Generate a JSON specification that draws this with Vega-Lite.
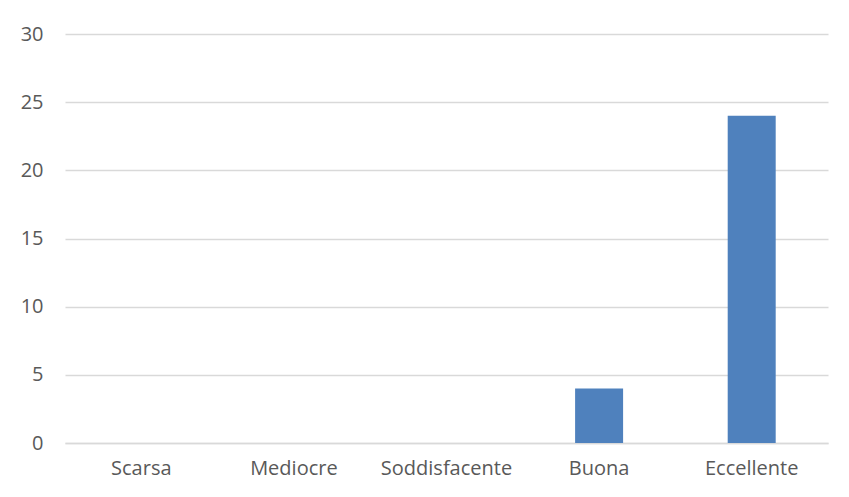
{
  "$schema": "https://vega.github.io/schema/vega-lite/v6.json",
  "width": 763,
  "height": 409,
  "autosize": {"type": "none"},
  "padding": {"left": 65, "top": 34, "right": 21, "bottom": 54},
  "background": "white",
  "config": {
    "view": {"stroke": null},
    "font": "Open Sans",
    "axis": {"labelFont": "Open Sans", "labelColor": "#595959", "labelFontSize": 20}
  },
  "data": {
    "values": [
      {"categoria": "Scarsa", "valore": 0},
      {"categoria": "Mediocre", "valore": 0},
      {"categoria": "Soddisfacente", "valore": 0},
      {"categoria": "Buona", "valore": 4},
      {"categoria": "Eccellente", "valore": 24}
    ]
  },
  "mark": {"type": "bar", "color": "#4f81bd", "size": 48},
  "encoding": {
    "x": {
      "field": "categoria",
      "type": "nominal",
      "sort": null,
      "scale": {"paddingInner": 0, "paddingOuter": 0},
      "axis": {"title": null, "labelAngle": 0, "ticks": false, "domain": true, "domainColor": "#d9d9d9", "domainWidth": 1.5, "labelPadding": 15, "grid": false}
    },
    "y": {
      "field": "valore",
      "type": "quantitative",
      "scale": {"domain": [0, 30], "nice": false},
      "axis": {"title": null, "values": [0, 5, 10, 15, 20, 25, 30], "ticks": false, "domain": false, "gridColor": "#d9d9d9", "gridWidth": 1.5, "labelPadding": 22}
    }
  }
}
